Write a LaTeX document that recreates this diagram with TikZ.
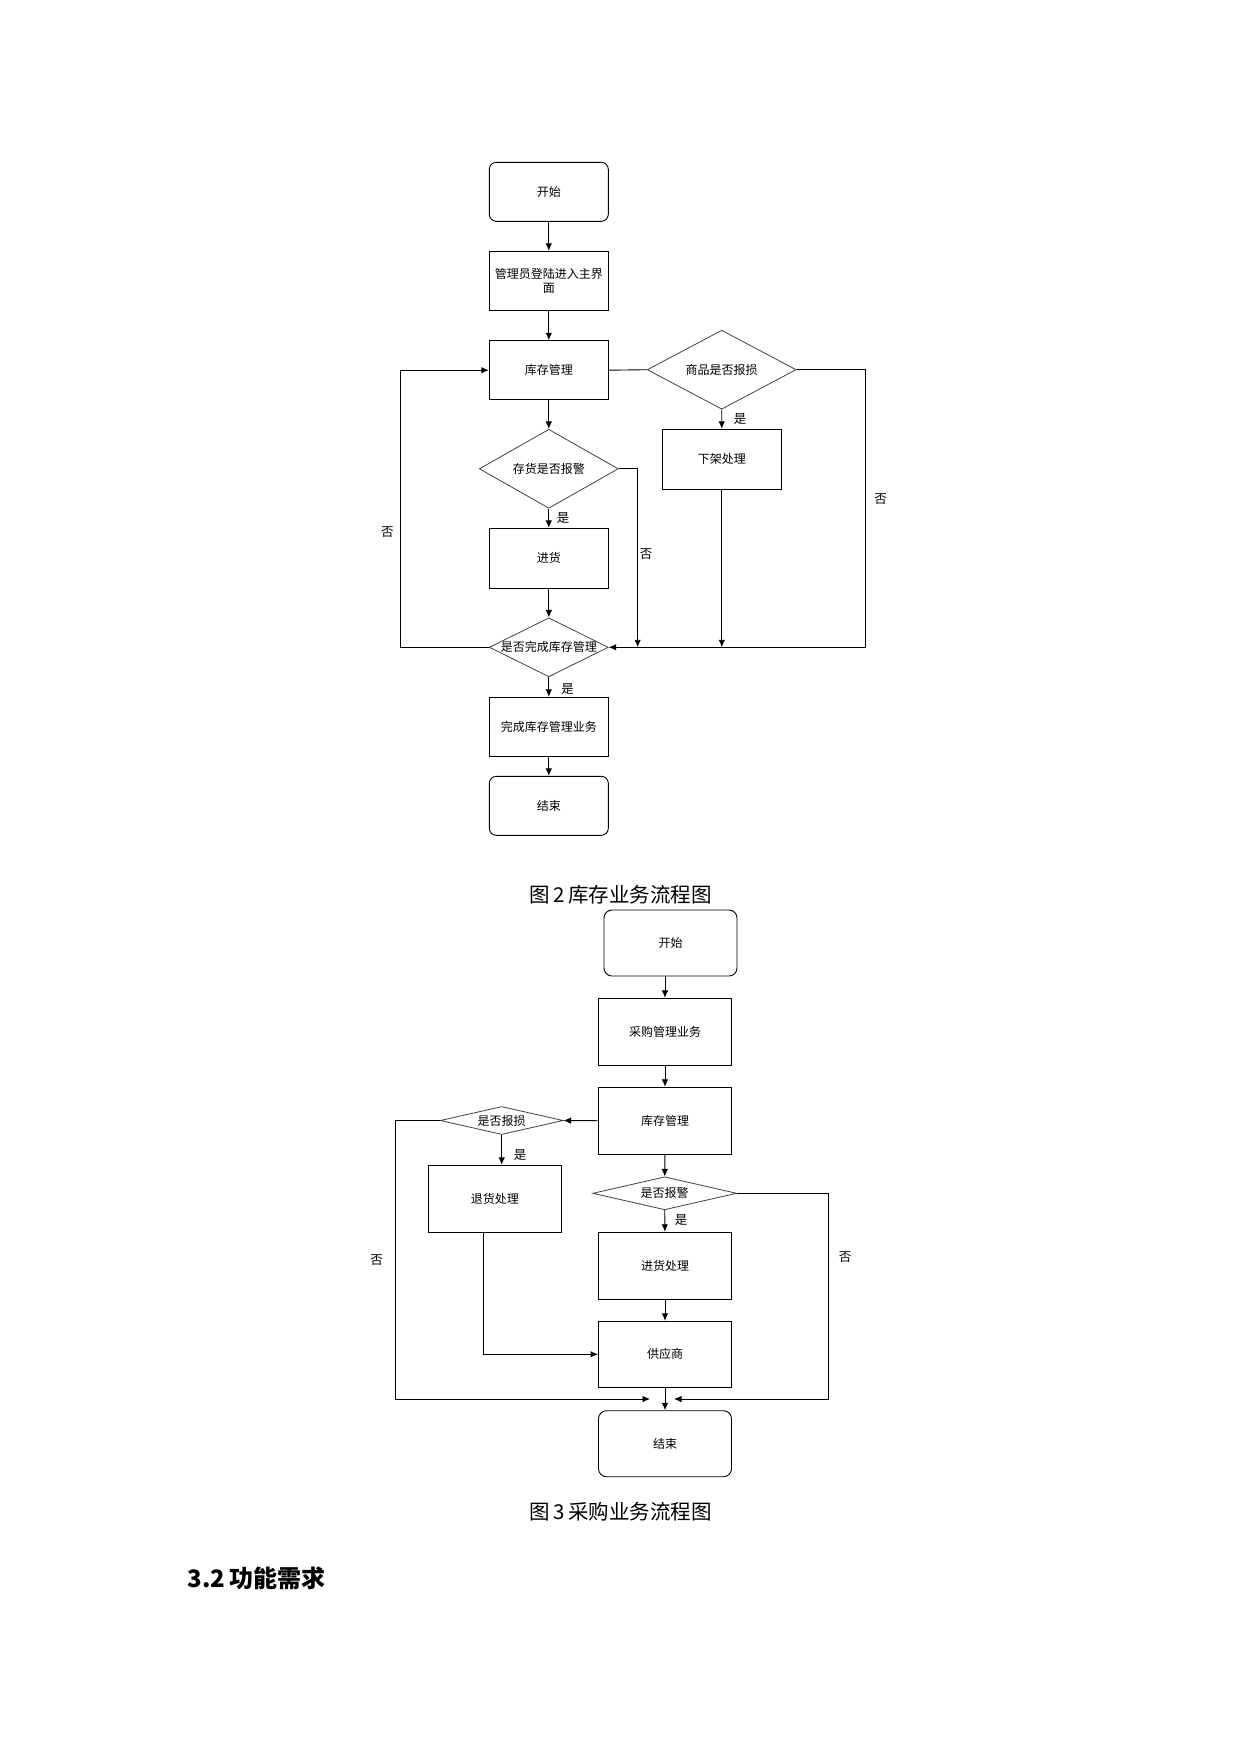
\documentclass[tikz,border=0pt]{standalone}
\usepackage{fontspec}
\newfontfamily\cjk{Noto Sans CJK SC}
\usetikzlibrary{shapes.geometric,arrows.meta}
\tikzstyle{proc}=[rectangle,draw=black,line width=0.9pt,minimum width=119pt,minimum height=59pt,inner sep=0pt,align=center,font=\cjk\fontsize{12}{14}\selectfont]
\tikzstyle{term}=[proc,rounded corners=7pt]
\tikzstyle{procb}=[proc,minimum width=133pt,minimum height=67pt]
\tikzstyle{termb}=[procb,rounded corners=8pt]
\tikzstyle{decide}=[diamond,draw=black!75,line width=0.8pt,inner sep=0pt,font=\cjk\fontsize{12}{14}\selectfont]
\tikzstyle{lbl}=[inner sep=0pt,font=\cjk\fontsize{12.5}{14}\selectfont]
\tikzstyle{figcaption}=[inner sep=0pt,font=\cjk\fontsize{20.5}{24}\selectfont]
\tikzstyle{head}=[inner sep=0pt,anchor=west,font=\cjk\bfseries\fontsize{24}{28}\selectfont]
\tikzstyle{arr}=[-{Latex[length=7.5pt,width=6.5pt]},line width=0.9pt]
\tikzstyle{link}=[line width=0.9pt]

\begin{document}
\begin{tikzpicture}[x=1pt,y=-1pt]
    \useasboundingbox (0,0) rectangle (1240,1754);

    % 图2
    \node (start1) at (548.8,191.8) [term] {开始};
    \node (login) at (548.8,280.8) [proc] {管理员登陆进入主界\\面};
    \node (stock1) at (548.8,370.2) [proc] {库存管理};
    \node (alarm1) at (548.8,468.8) [decide,minimum width=139pt,minimum height=79pt] {\makebox[0pt]{存货是否报警}};
    \node (damage1) at (721.7,369.7) [decide,minimum width=149pt,minimum height=79pt] {\makebox[0pt]{商品是否报损}};
    \node (offshelf) at (721.8,459.3) [proc,minimum height=60pt] {下架处理};
    \node (restock1) at (548.8,558.3) [proc,minimum height=60pt] {进货};
    \node (done1) at (548.8,647.3) [decide,minimum width=119pt,minimum height=59pt] {\makebox[0pt]{是否完成库存管理}};
    \node (finish1) at (548.8,726.8) [proc] {完成库存管理业务};
    \node (end1) at (548.8,805.8) [term] {结束};

    \coordinate (r1a) at (865.3,369.7);
    \coordinate (r1b) at (865.3,647.3);
    \coordinate (m1a) at (637.7,468.8);
    \coordinate (m1b) at (637.7,647.3);
    \coordinate (o1) at (721.8,647.3);
    \coordinate (l1a) at (400.3,647.3);
    \coordinate (l1b) at (400.3,370.2);

    \draw (start1) -- (login) [arr];
    \draw (login) -- (stock1) [arr];
    \draw (stock1) -- (alarm1) [arr];
    \draw (alarm1) -- (restock1) [arr];
    \draw (restock1) -- (done1) [arr];
    \draw (done1) -- (finish1) [arr];
    \draw (finish1) -- (end1) [arr];

    \draw (stock1.east) -- (damage1.west) [link];
    \draw (damage1.south) -- (offshelf.north) [arr];
    \draw (damage1.east) -- (r1a) -- (r1b) -- (done1.east) [arr];
    \draw (alarm1.east) -- (m1a) -- (m1b) [arr];
    \draw (offshelf.south) -- (o1) [arr];
    \draw (done1.west) -- (l1a) -- (l1b) -- (stock1.west) [arr];

    \node (y1) at (563,518) [lbl] {是};
    \node (y2) at (740,419) [lbl] {是};
    \node (y3) at (567.7,688.7) [lbl] {是};
    \node (n1) at (387.3,531.7) [lbl] {否};
    \node (n2) at (646,554) [lbl] {否};
    \node (n3) at (880.7,499.3) [lbl] {否};

    \node (cap2) at (620.8,895) [figcaption] {图\,2\,库存业务流程图};

    % 图3
    \node (start2) at (670.5,943) [termb,minimum height=66pt] {开始};
    \node (purchase) at (665,1031.8) [procb] {采购管理业务};
    \node (stock2) at (665,1120.7) [procb] {库存管理};
    \node (damage2) at (501.7,1120.5) [decide,minimum width=123pt,minimum height=28pt] {\makebox[0pt]{是否报损}};
    \node (return) at (494.8,1198.8) [procb] {退货处理};
    \node (alarm2) at (664.7,1193.3) [decide,minimum width=144pt,minimum height=33pt] {\makebox[0pt]{是否报警}};
    \node (restock2) at (665,1265.7) [procb] {进货处理};
    \node (supplier) at (665,1354.3) [procb,minimum height=66pt] {供应商};
    \node (end2) at (665,1443.7) [termb,minimum height=66pt] {结束};

    \coordinate (l2a) at (395,1120.5);
    \coordinate (l2b) at (395,1399);
    \coordinate (l2c) at (650,1399);
    \coordinate (r2a) at (828.3,1193.3);
    \coordinate (r2b) at (828.3,1399);
    \coordinate (r2c) at (674,1399);
    \coordinate (ret1) at (483.3,1232.3);
    \coordinate (ret2) at (483.3,1354.3);

    \draw (start2.south -| purchase) -- (purchase) [arr];
    \draw (purchase) -- (stock2) [arr];
    \draw (stock2.west) -- (damage2.east) [arr];
    \draw (damage2.south) -- (damage2.south |- return.north) [arr];
    \draw (stock2) -- (alarm2) [arr];
    \draw (alarm2) -- (restock2) [arr];
    \draw (restock2) -- (supplier) [arr];
    \draw (supplier) -- (end2) [arr];
    \draw (ret1) -- (ret2) -- (supplier.west) [arr];
    \draw (damage2.west) -- (l2a) -- (l2b) -- (l2c) [arr];
    \draw (alarm2.east) -- (r2a) -- (r2b) -- (r2c) [arr];

    \node (y4) at (520,1155) [lbl] {是};
    \node (y5) at (681,1220) [lbl] {是};
    \node (n4) at (376.7,1260) [lbl] {否};
    \node (n5) at (845,1256.7) [lbl] {否};

    \node (cap3) at (620.8,1511.7) [figcaption] {图\,3\,采购业务流程图};

    \node (sec) at (187.3,1578.3) [head] {3.2\,功能需求};
\end{tikzpicture}
\end{document}
